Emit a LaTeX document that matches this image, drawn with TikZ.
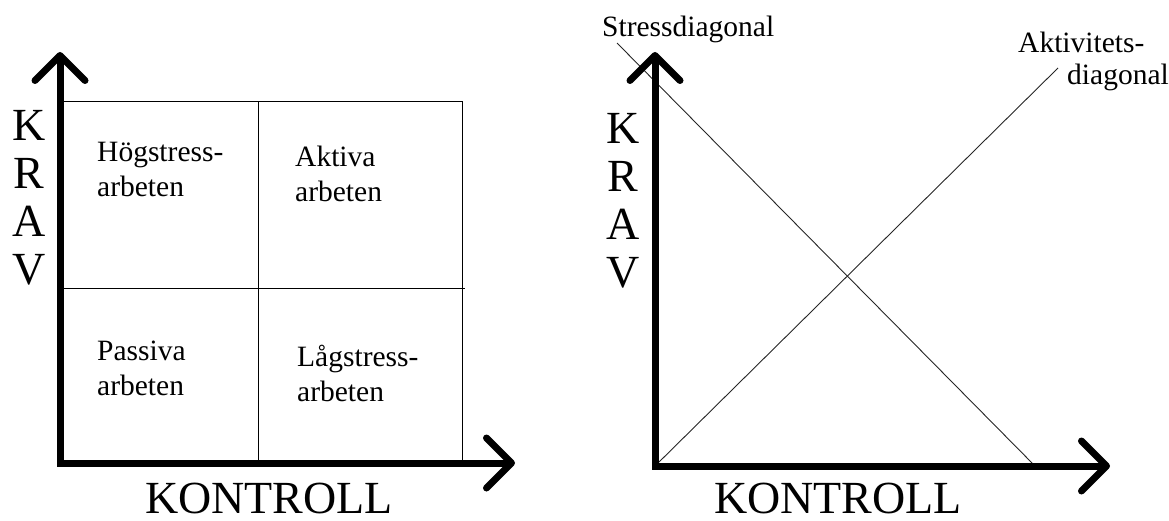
\documentclass[tikz,border=0pt]{standalone}
\usepackage{fontspec}
\setmainfont{Liberation Serif}
\usetikzlibrary{arrows.meta}
\begin{document}
\begin{tikzpicture}[x=1pt,y=-1pt,
  barb/.tip={Straight Barb[length=25pt,width=50pt,line cap=round,line join=round]},
  axis/.style={line width=7pt,barb-barb},
  grid/.style={line width=1pt},
  diag/.style={line width=0.9pt,black!85},
  cell/.style={font=\fontsize{29.5}{35}\selectfont,align=left,anchor=base west,inner sep=0pt},
  big/.style={font=\fontsize{46}{48}\selectfont,align=center,inner sep=0pt}]
\useasboundingbox (0,0) rectangle (1169,521);
% left panel
\coordinate (ltop) at (60,52);
\coordinate (lorig) at (60,463);
\coordinate (lright) at (515,463);
\coordinate (gnw) at (60,102);
\coordinate (gse) at (462,463);
\coordinate (gmidn) at (258,102);
\coordinate (gmids) at (258,463);
\coordinate (gmidw) at (60,288);
\coordinate (gmide) at (465,288);
\draw[grid] (gnw) -| (gse);
\draw[grid] (gmidn) -- (gmids);
\draw[grid] (gmidw) -- (gmide);
\draw[axis] (ltop) -- (lorig) -- (lright);
\node (lkrav) [big,anchor=north] at (29,110) {K\\R\\A\\V};
\node (lkontroll) [big,anchor=base] at (269,513) {KONTROLL};
% base = baseline of the last line
\node (hog) [cell] at (97,197) {Högstress-\\arbeten};
\node (akt) [cell] at (295,202) {Aktiva\\arbeten};
\node (pas) [cell] at (97,395) {Passiva\\arbeten};
\node (lag) [cell] at (297,401) {Lågstress-\\arbeten};
% right panel
\coordinate (rtop) at (655,52);
\coordinate (rorig) at (655,466);
\coordinate (rright) at (1110,466);
\coordinate (sstart) at (617,43);
\coordinate (send) at (1035,466);
\coordinate (aend) at (1058,68);
\draw[diag] (sstart) -- (send);
\draw[diag] (rorig) -- (aend);
\draw[axis] (rtop) -- (rorig) -- (rright);
\node (rkrav) [big,anchor=north] at (623,113) {K\\R\\A\\V};
\node (rkontroll) [big,anchor=base] at (838,513) {KONTROLL};
\node (stress) [cell] at (602,37) {Stressdiagonal};
\node (aktiv1) [cell] at (1018,53) {Aktivitets-};
\node (aktiv2) [cell] at (1067,85) {diagonal};
\end{tikzpicture}
\end{document}
